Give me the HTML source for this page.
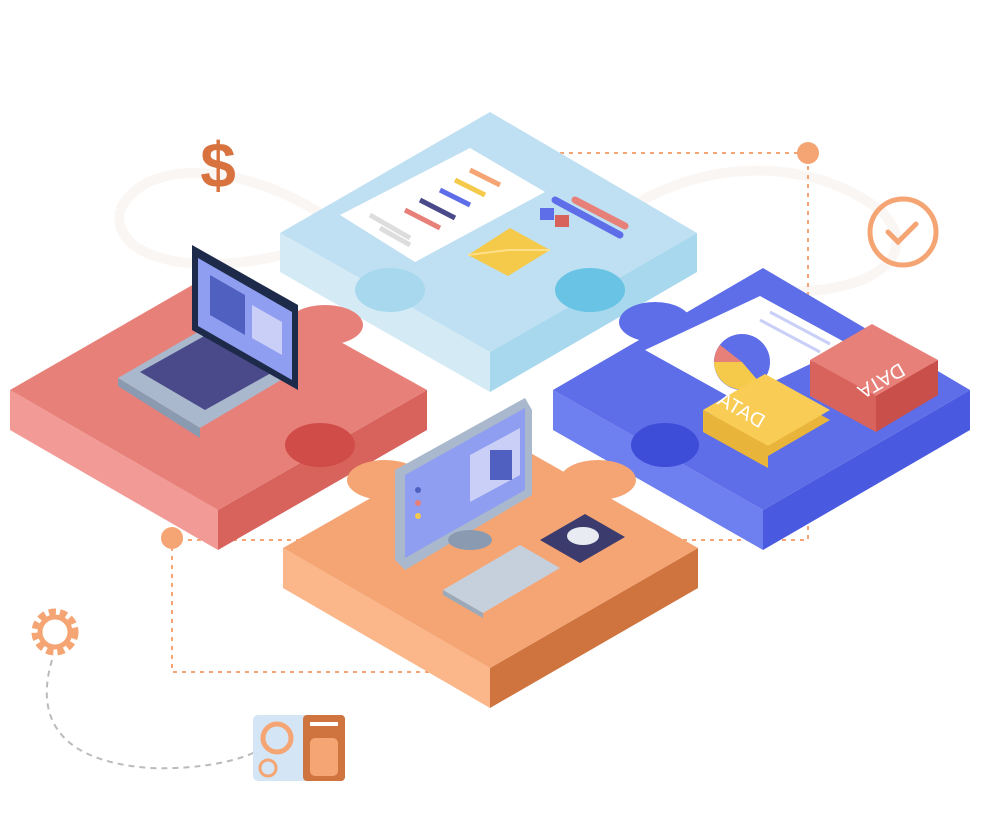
<!DOCTYPE html>
<html><head><meta charset="utf-8"><style>html,body{margin:0;padding:0;background:#fff}svg{display:block}</style></head>
<body>
<svg width="981" height="821" viewBox="0 0 981 821" xmlns="http://www.w3.org/2000/svg">
<!-- faint loop -->
<path d="M120,210 C150,150 260,170 330,220 C420,280 520,300 600,230 C680,160 800,150 880,210 C930,260 860,300 760,290" fill="none" stroke="#faf6f4" stroke-width="10"/>
<path d="M120,210 C110,260 200,280 300,250" fill="none" stroke="#faf6f4" stroke-width="10"/>
<!-- dotted lines -->
<g stroke="#f5a573" stroke-width="2" stroke-dasharray="4,5" fill="none">
<path d="M560,153 H808 V540 H172 V672 H430"/>
</g>
<circle cx="808" cy="153" r="11" fill="#f5a573"/>
<circle cx="172" cy="538" r="11" fill="#f5a573"/>
<text x="218" y="187" font-family="Liberation Sans, sans-serif" font-weight="bold" font-size="64" fill="#d8733f" text-anchor="middle">$</text>
<circle cx="903" cy="232" r="33" fill="none" stroke="#f5a573" stroke-width="5"/>
<path d="M888,232 l10,10 l18,-18" fill="none" stroke="#f5a573" stroke-width="5" stroke-linecap="round"/>
<!-- gear -->
<circle cx="55" cy="632" r="20" fill="none" stroke="#f5a573" stroke-width="7" stroke-dasharray="7,4"/>
<circle cx="55" cy="632" r="15" fill="none" stroke="#f5a573" stroke-width="5"/>
<path d="M52,660 C40,700 40,760 150,768 C200,770 240,760 255,752" fill="none" stroke="#bbb" stroke-width="2" stroke-dasharray="6,5"/>
<!-- card -->
<rect x="253" y="715" width="92" height="66" rx="5" fill="#d4e6f6"/>
<rect x="303" y="715" width="42" height="66" rx="4" fill="#d0743f"/>
<circle cx="277" cy="738" r="14" fill="none" stroke="#f5a573" stroke-width="5"/>
<circle cx="268" cy="768" r="8" fill="none" stroke="#f5a573" stroke-width="3"/>
<rect x="310" y="738" width="28" height="38" rx="5" fill="#f5a573"/>
<rect x="310" y="722" width="28" height="4" fill="#fff"/>
<!-- blue piece -->
<polygon points="280,233 490,352 490,392 280,272" fill="#d4ebf6"/>
<polygon points="490,352 697,233 697,272 490,392" fill="#a7d8ee"/>
<polygon points="490,112 697,233 490,352 280,233" fill="#bfe0f2"/>
<ellipse cx="390" cy="290" rx="35" ry="22" fill="#a7d8ee"/>
<ellipse cx="590" cy="290" rx="35" ry="22" fill="#68c3e4"/>
<!-- paper on blue -->
<polygon points="340,215 470,148 545,192 415,262" fill="#fff"/>
<g stroke-width="5">
<line x1="405" y1="210" x2="440" y2="228" stroke="#e8807a"/>
<line x1="420" y1="200" x2="455" y2="218" stroke="#4a4a8a"/>
<line x1="440" y1="190" x2="470" y2="205" stroke="#5d6ee8"/>
<line x1="455" y1="180" x2="485" y2="195" stroke="#f5c94a"/>
<line x1="470" y1="170" x2="500" y2="185" stroke="#f5a573"/>
<line x1="370" y1="215" x2="410" y2="238" stroke="#ddd"/>
<line x1="380" y1="228" x2="410" y2="245" stroke="#ddd"/>
</g>
<polygon points="468,255 510,228 550,250 508,276" fill="#f5c94a"/>
<polyline points="468,255 508,250 550,250" fill="none" stroke="#ffe08a" stroke-width="2"/>
<line x1="555" y1="200" x2="620" y2="235" stroke="#5d6ee8" stroke-width="7" stroke-linecap="round"/>
<line x1="575" y1="200" x2="625" y2="226" stroke="#e8807a" stroke-width="7" stroke-linecap="round"/>
<rect x="540" y="208" width="14" height="12" fill="#5d6ee8"/><rect x="555" y="215" width="14" height="12" fill="#d8625c"/>
<!-- red piece -->
<polygon points="10,390 218,510 218,550 10,430" fill="#f29a95"/>
<polygon points="218,510 427,390 427,430 218,550" fill="#d8625c"/>
<polygon points="215,272 427,390 218,510 10,390" fill="#e8807a"/>
<ellipse cx="325" cy="325" rx="38" ry="20" fill="#e8807a"/>
<ellipse cx="320" cy="445" rx="35" ry="22" fill="#d04c48"/>
<!-- laptop -->
<polygon points="118,378 215,322 298,370 200,428" fill="#a9b8cc"/>
<polygon points="118,378 200,428 200,438 118,386" fill="#8a9ab0"/>
<polygon points="140,372 215,330 280,368 205,410" fill="#4a4a8a"/>
<polygon points="192,245 298,305 298,390 192,330" fill="#1e2a4a"/>
<polygon points="198,258 292,312 292,380 198,326" fill="#8f9ef0"/>
<polygon points="210,275 245,295 245,335 210,315" fill="#5060c0"/>
<polygon points="252,305 282,322 282,355 252,338" fill="#c9cff7"/>
<!-- purple piece -->
<polygon points="553,390 763,510 763,550 553,430" fill="#6e7ff0"/>
<polygon points="763,510 970,390 970,430 763,550" fill="#4a5ae0"/>
<polygon points="763,268 970,390 763,510 553,390" fill="#5d6ee8"/>
<ellipse cx="655" cy="322" rx="36" ry="20" fill="#5d6ee8"/>
<ellipse cx="665" cy="445" rx="34" ry="22" fill="#3e4dd8"/>
<polygon points="645,350 760,296 850,345 735,400" fill="#fff"/>
<circle cx="742" cy="362" r="28" fill="#5d6ee8"/>
<path d="M742,362 L714,362 A28,28 0 0,0 760,383 Z" fill="#f5c94a"/>
<path d="M742,362 L720,345 A28,28 0 0,0 714,362 Z" fill="#e8807a"/>
<line x1="760" y1="320" x2="820" y2="352" stroke="#c9cff7" stroke-width="3"/>
<line x1="770" y1="312" x2="830" y2="344" stroke="#c9cff7" stroke-width="3"/>
<polygon points="703,420 765,384 830,420 768,456" fill="#e8b53a"/>
<polygon points="703,410 765,374 830,410 768,446" fill="#f9cc55"/>
<polygon points="703,410 768,446 768,468 703,432" fill="#e8b53a"/>
<text x="0" y="0" transform="translate(738,416) rotate(30) scale(-1,1)" font-family="Liberation Sans, sans-serif" font-size="20" fill="#fff" text-anchor="middle">DATA</text>
<polygon points="810,368 872,332 938,368 876,404" fill="#d8625c"/>
<polygon points="810,360 872,324 938,360 876,396" fill="#e8807a"/>
<polygon points="810,360 876,396 876,432 810,396" fill="#d8625c"/>
<polygon points="876,396 938,360 938,395 876,432" fill="#c84f4a"/>
<text x="0" y="0" transform="translate(878,375) rotate(-30) scale(-1,-1)" font-family="Liberation Sans, sans-serif" font-size="20" fill="#fff" text-anchor="middle">DATA</text>
<!-- orange piece -->
<polygon points="283,548 490,668 490,708 283,588" fill="#fbb689"/>
<polygon points="490,668 698,548 698,588 490,708" fill="#d0743f"/>
<polygon points="490,430 698,548 490,668 283,548" fill="#f5a573"/>
<ellipse cx="385" cy="480" rx="38" ry="20" fill="#f5a573"/>
<ellipse cx="598" cy="480" rx="38" ry="20" fill="#f5a573"/>
<!-- monitor -->
<polygon points="395,470 525,398 532,410 532,495 405,570 395,560" fill="#a9b8cc"/>
<polygon points="405,475 525,408 525,490 405,558" fill="#8f9ef0"/>
<polygon points="470,455 520,428 520,475 470,502" fill="#c9cff7"/>
<rect x="490" y="450" width="22" height="30" fill="#5060c0"/>
<circle cx="418" cy="490" r="3" fill="#5060c0"/><circle cx="418" cy="503" r="3" fill="#e8807a"/><circle cx="418" cy="516" r="3" fill="#f5c94a"/>
<ellipse cx="470" cy="540" rx="22" ry="10" fill="#8a9ab0"/>
<polygon points="443,590 520,545 560,568 483,613" fill="#c6d0dc"/>
<polygon points="443,590 483,613 483,618 443,595" fill="#9aaabb"/>
<polygon points="540,540 585,514 625,537 580,563" fill="#3b3b6e"/>
<ellipse cx="583" cy="536" rx="16" ry="9" fill="#e8ecf2"/>
</svg>
</body></html>
